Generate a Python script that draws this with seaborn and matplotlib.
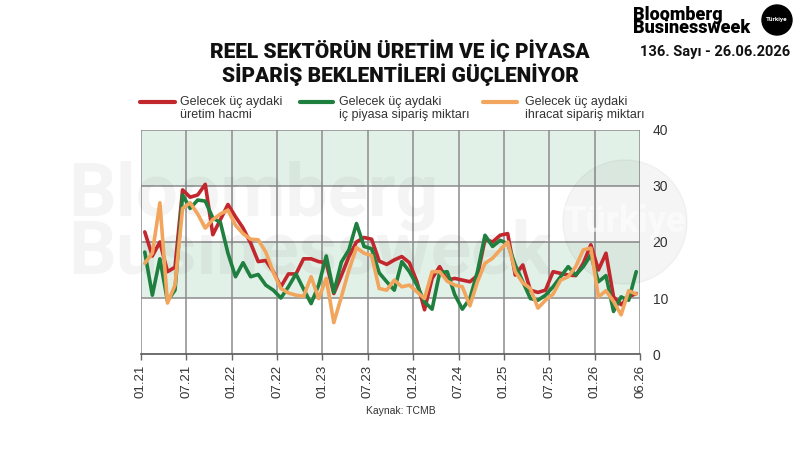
import numpy as np
import pandas as pd
import matplotlib
matplotlib.use("Agg")
import matplotlib.pyplot as plt
from matplotlib.lines import Line2D
from matplotlib.patches import Circle
import seaborn as sns

# ---------------- data ----------------
tick_labels = ["01.21", "07.21", "01.22", "07.22", "01.23", "07.23", "01.24",
               "07.24", "01.25", "07.25", "01.26", "06.26"]

series_names = ["Gelecek üç aydaki\nüretim hacmi",
                "Gelecek üç aydaki\niç piyasa sipariş miktarı",
                "Gelecek üç aydaki\nihracat sipariş miktarı"]

uretim = [21.8, 17.5, 20.0, 14.7, 15.5, 29.3, 28.0, 28.4, 30.3, 21.3,
          24.0, 26.7, 24.5, 22.5, 19.8, 16.5, 16.7, 14.7, 12.0, 14.3,
          14.3, 17.0, 17.0, 16.5, 16.3, 10.8, 14.0, 17.4, 20.0, 20.8,
          20.5, 16.6, 16.0, 16.8, 17.4, 16.3, 12.9, 7.9, 13.5, 15.6,
          13.2, 13.5, 13.2, 12.9, 14.0, 20.5, 20.0, 21.2, 21.5, 14.1,
          15.9, 11.4, 11.0, 11.4, 14.7, 14.4, 14.1, 14.0, 16.2, 19.5,
          15.0, 18.0, 10.2, 8.8, 10.2, 10.8]

ic_piyasa = [18.2, 10.5, 17.0, 9.5, 11.4, 28.4, 26.0, 27.5, 27.3, 24.3,
             23.5, 18.0, 13.8, 16.3, 13.8, 14.2, 12.3, 11.4, 10.0, 12.0,
             14.3, 11.6, 9.0, 12.3, 17.5, 11.0, 16.4, 18.6, 23.3, 19.2,
             18.8, 14.5, 12.9, 11.4, 16.5, 14.7, 12.3, 9.3, 8.0, 14.5,
             14.7, 10.6, 8.0, 9.9, 14.7, 21.2, 19.2, 20.3, 19.7, 15.9,
             12.9, 9.9, 9.6, 10.5, 12.0, 13.8, 15.6, 14.1, 15.6, 17.7,
             12.9, 14.0, 7.6, 10.2, 9.6, 14.7]

ihracat = [16.2, 18.0, 27.0, 9.1, 12.3, 26.0, 27.0, 25.0, 22.5, 24.0,
           25.0, 25.7, 23.0, 21.5, 20.5, 20.4, 18.2, 14.6, 11.7, 10.9,
           10.5, 10.3, 13.8, 9.9, 13.5, 5.6, 10.2, 15.0, 19.0, 18.0,
           17.6, 11.7, 11.4, 13.2, 12.0, 12.3, 11.1, 9.9, 14.7, 14.7,
           13.0, 12.3, 12.0, 8.6, 12.9, 16.2, 17.1, 18.6, 20.0, 14.7,
           12.7, 11.7, 8.2, 9.6, 10.7, 13.2, 13.8, 15.6, 18.6, 18.9,
           10.2, 11.3, 9.4, 7.0, 11.3, 10.7]

y_ticks = [0, 10, 20, 30, 40]

# ---------------- build frame ----------------
n = len(uretim)
df = pd.DataFrame({
    "ay": np.tile(np.arange(n), 3),
    "deger": uretim + ic_piyasa + ihracat,
    "seri": np.repeat(series_names, n),
})

colors = ["#c1272d", "#1f7f3f", "#f2a55c"]
palette = dict(zip(series_names, colors))

sns.set_theme(style="white")
plt.rcParams["font.family"] = ["Liberation Sans", "DejaVu Sans"]

fig = plt.figure(figsize=(8, 4.5), dpi=100)
ax = fig.add_axes([141 / 800, 1 - 354 / 450, 499 / 800, 224 / 450])

# bands
band = "#e2f1e8"
ax.axhspan(10, 20, color=band, zorder=0, lw=0)
ax.axhspan(30, 40, color=band, zorder=0, lw=0)

sns.lineplot(data=df, x="ay", y="deger", hue="seri", palette=palette,
             hue_order=series_names, linewidth=2.6, legend=False, ax=ax,
             zorder=3)

xt = [-0.5 + 6 * k for k in range(11)] + [n - 0.5]
ax.set_xlim(-0.5, n - 0.5)
ax.set_ylim(0, 40)
ax.set_xticks(xt)
ax.set_xticklabels(tick_labels, rotation=90, fontsize=9.5, color="#333333")
ax.set_yticks(y_ticks)
ax.set_yticklabels([str(v) for v in y_ticks], fontsize=10, color="#333333")
ax.yaxis.tick_right()
ax.tick_params(axis="y", length=0, pad=9)
ax.tick_params(axis="x", length=4, width=1, color="#666666", pad=4,
               direction="out", bottom=True)
ax.set_xlabel("")
ax.set_ylabel("")

gcol = "#8c8c8c"
for x in xt:
    ax.axvline(x, color=gcol, lw=1.1, zorder=1)
for y in [10, 20, 30, 40]:
    ax.axhline(y, color=gcol, lw=1.1, zorder=1)
for s in ["top", "left", "right"]:
    ax.spines[s].set_visible(False)
ax.spines["bottom"].set_color("#555555")
ax.spines["bottom"].set_linewidth(1.2)
ax.spines["bottom"].set_zorder(4)

# watermark
hf = ["Roboto", "DejaVu Sans"]
wm = dict(transform=fig.transFigure, color="#000000", alpha=0.045,
          fontsize=54, fontweight="bold", family=hf,
          zorder=2, clip_on=False, va="baseline", ha="left")
ax.text(68 / 800, 1 - 216 / 450, "Bloomberg", **wm)
ax.text(68 / 800, 1 - 274 / 450, "Businessweek", **wm)
circ = Circle((6.25, 4.5 - 2.22), 0.62, transform=fig.dpi_scale_trans,
              color="#000000", alpha=0.04, zorder=2, clip_on=False)
ax.add_artist(circ)
ax.text(625 / 800, 1 - 222 / 450, "Türkiye", transform=fig.transFigure,
        color="white", alpha=0.6, fontsize=26, fontweight="bold",
        family=hf, ha="center", va="center", zorder=2, clip_on=False)

# title
tf = dict(ha="center", va="center", fontsize=15, fontweight=900,
          family=hf, color="#111111")
fig.text(400 / 800, 1 - 51 / 450, "REEL SEKTÖRÜN ÜRETİM VE İÇ PİYASA", **tf)
fig.text(400 / 800, 1 - 75 / 450, "SİPARİŞ BEKLENTİLERİ GÜÇLENİYOR", **tf)

# legend
leg_pos = [(140, 175, 180), (300, 333, 339), (483, 517, 525)]
for (x0, x1, xt0), name, c in zip(leg_pos, series_names, colors):
    fig.add_artist(Line2D([x0 / 800, x1 / 800], [1 - 102 / 450] * 2,
                          color=c, lw=3, transform=fig.transFigure))
    fig.text(xt0 / 800, 1 - 95.5 / 450, name, ha="left", va="top",
             fontsize=9, color="#333333", linespacing=1.15)

# header
fig.text(633 / 800, 1 - 19.5 / 450, "Bloomberg", ha="left", va="baseline",
         fontsize=13, fontweight=900, family=hf, color="#000000")
fig.text(633 / 800, 1 - 33 / 450, "Businessweek", ha="left",
         va="baseline", fontsize=13, fontweight=900, family=hf,
         color="#000000")
fig.add_artist(Circle((7.77, 4.5 - 0.20), 0.15,
                      transform=fig.dpi_scale_trans, color="#000000"))
fig.text(777 / 800, 1 - 20 / 450, "Türkiye", ha="center", va="center",
         fontsize=4.6, fontweight="bold", family=hf, color="white")
fig.text(715 / 800, 1 - 52 / 450, "136. Sayı - 26.06.2026", ha="center",
         va="center", fontsize=10.5, fontweight="bold", family=hf,
         color="#111111")

# source
fig.text(401 / 800, 1 - 411.5 / 450, "Kaynak: TCMB", ha="center",
         va="center", fontsize=7.5, color="#333333")

fig.savefig("out.png", dpi=100)
